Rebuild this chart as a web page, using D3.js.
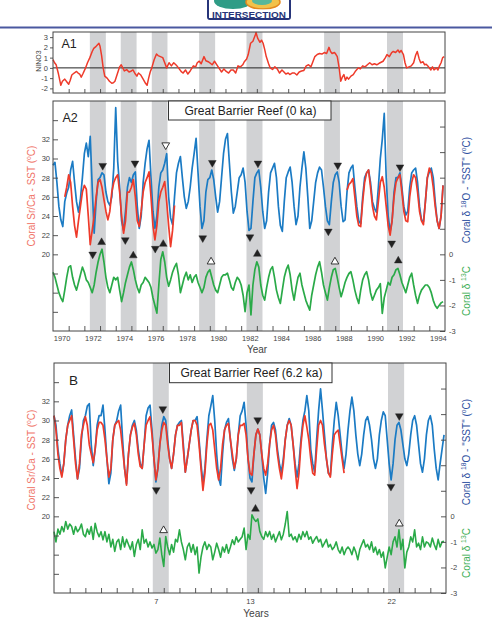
<!DOCTYPE html>
<html><head><meta charset="utf-8">
<script src="https://cdn.jsdelivr.net/npm/d3@7"></script>
<style>body{margin:0;background:#fff} svg{display:block} text{font-family:"Liberation Sans",Arial,Helvetica,sans-serif}</style>
</head><body><svg id="c" width="492" height="619"></svg>
<script>
// ---------------- DATA ----------------
// Panel A1: NINO3 index [year, value]
const nino3 = [[1970.0,0.8],[1970.1,0.5],[1970.2,0.3],[1970.35,-0.6],[1970.5,-1.7],[1970.6,-1.3],[1970.75,-1.1],[1970.9,-1.4],[1971.0,-1.6],[1971.1,-1.2],[1971.2,-0.7],[1971.35,-0.5],[1971.5,-0.35],[1971.6,-0.5],[1971.7,-0.6],[1971.8,-0.9],[1971.9,-0.6],[1972.05,-0.1],[1972.2,0.5],[1972.35,1.0],[1972.5,1.6],[1972.6,1.9],[1972.75,2.1],[1972.93,2.4],[1973.0,2.1],[1973.1,1.2],[1973.2,0.0],[1973.3,-0.8],[1973.45,-1.0],[1973.6,-1.3],[1973.75,-1.5],[1973.85,-1.45],[1973.95,-1.3],[1974.1,-0.6],[1974.25,0.1],[1974.35,0.3],[1974.45,0.0],[1974.55,-0.3],[1974.7,-0.17],[1974.85,-0.4],[1975.0,-0.3],[1975.1,-0.2],[1975.25,-0.6],[1975.35,-0.8],[1975.45,-0.5],[1975.6,-0.7],[1975.75,-1.1],[1975.9,-1.5],[1976.0,-1.7],[1976.1,-1.0],[1976.2,-0.4],[1976.3,0.0],[1976.45,0.8],[1976.6,1.35],[1976.7,1.2],[1976.85,1.1],[1977.0,1.0],[1977.1,0.6],[1977.25,0.0],[1977.4,0.5],[1977.55,0.2],[1977.7,0.5],[1977.9,0.2],[1978.05,-0.1],[1978.2,-0.4],[1978.3,-0.5],[1978.45,-0.2],[1978.6,-0.6],[1978.75,-0.3],[1978.95,0.2],[1979.1,0.1],[1979.2,0.5],[1979.33,0.65],[1979.45,0.4],[1979.63,1.1],[1979.75,0.7],[1979.9,0.6],[1980.0,0.5],[1980.15,0.3],[1980.3,0.65],[1980.45,0.3],[1980.65,-0.17],[1980.75,-0.4],[1980.9,-0.1],[1981.05,-0.35],[1981.2,-0.5],[1981.35,-0.2],[1981.5,-0.2],[1981.65,-0.5],[1981.8,0.2],[1981.95,0.1],[1982.1,0.3],[1982.2,0.6],[1982.35,0.87],[1982.45,1.3],[1982.6,2.4],[1982.75,2.6],[1982.9,3.2],[1982.95,3.45],[1983.05,2.9],[1983.2,2.5],[1983.3,2.7],[1983.4,2.4],[1983.5,1.8],[1983.6,1.1],[1983.75,0.4],[1983.85,0.0],[1984.0,-0.15],[1984.15,0.1],[1984.3,-0.1],[1984.45,-0.5],[1984.6,-0.2],[1984.7,-0.35],[1984.85,-0.6],[1985.0,-0.5],[1985.1,-0.65],[1985.25,-0.5],[1985.4,-0.5],[1985.55,-0.7],[1985.7,-0.4],[1985.85,-0.3],[1986.0,-0.25],[1986.15,0.2],[1986.3,0.3],[1986.45,0.1],[1986.55,0.5],[1986.7,1.1],[1986.85,1.3],[1987.0,1.4],[1987.15,1.35],[1987.3,1.5],[1987.45,1.4],[1987.6,2.0],[1987.7,1.6],[1987.8,1.4],[1987.95,1.5],[1988.05,1.3],[1988.13,1.1],[1988.25,0.0],[1988.35,-1.3],[1988.45,-0.9],[1988.55,-0.65],[1988.65,-1.2],[1988.75,-0.9],[1988.85,-1.1],[1989.0,-0.8],[1989.15,-0.65],[1989.3,-0.3],[1989.47,0.0],[1989.6,-0.1],[1989.75,0.2],[1989.9,0.1],[1990.05,0.3],[1990.2,0.5],[1990.35,0.3],[1990.5,0.4],[1990.65,0.3],[1990.8,0.45],[1991.05,0.65],[1991.2,1.0],[1991.3,1.3],[1991.45,1.1],[1991.6,1.5],[1991.7,1.6],[1991.85,1.5],[1992.0,1.75],[1992.1,1.5],[1992.2,1.7],[1992.35,1.3],[1992.45,0.5],[1992.55,0.0],[1992.7,0.1],[1992.85,0.2],[1993.0,0.5],[1993.12,1.2],[1993.23,1.6],[1993.35,0.9],[1993.45,0.5],[1993.6,0.6],[1993.7,0.3],[1993.8,0.35],[1993.95,0.1],[1994.1,-0.2],[1994.2,0.1],[1994.3,-0.2],[1994.45,0.0],[1994.55,-0.2],[1994.65,0.2],[1994.75,0.5],[1994.85,1.0],[1994.95,1.1]];

// El Nino bands (years)
const bandsA = [[1972.35,1973.37],[1974.32,1975.33],[1976.3,1977.3],[1979.32,1980.34],[1982.34,1983.36],[1987.29,1988.3],[1991.3,1992.32]];
const bandsB = [[6.3,7.32],[12.3,13.32],[21.3,22.33]];

// A2 series: 8 samples per year
const a2Step = 0.125;
const a2BlueStart = 1970;
const a2Blue = [
29.3,29.6,27.5,25.0,23.6,22.9,25.5,26.4, 27.0,28.8,29.7,27.5,25.5,24.4,25.8,28.0,
30.5,31.6,30.2,32.3,27.0,22.2,25.5,27.8, 28.0,28.5,28.3,26.5,25.5,25.1,26.0,29.0,
35.3,29.7,27.0,23.5,22.5,24.5,27.0,28.0, 27.5,28.3,28.6,25.0,22.7,24.0,27.5,29.5,
31.0,31.9,28.0,24.5,22.7,24.0,27.0,28.5, 28.8,29.5,30.5,26.0,23.8,23.1,26.0,28.5,
29.5,30.2,28.0,26.0,24.8,25.5,27.0,29.0, 30.5,32.1,28.5,25.0,22.7,23.5,26.5,27.8,
28.0,28.8,27.8,26.0,24.4,25.5,28.0,30.5, 32.0,32.6,29.5,26.5,24.3,25.0,26.5,28.0,
28.3,29.0,27.5,24.5,22.5,22.7,25.5,28.0, 28.5,28.8,27.0,24.5,22.7,23.5,26.5,28.5,
29.0,29.5,28.0,25.0,23.0,22.4,25.5,28.0, 28.6,29.1,27.5,25.0,23.1,24.0,27.0,29.0,
30.7,29.0,26.0,22.7,23.5,25.5,27.5,28.5, 29.1,28.8,27.0,25.0,23.5,23.1,25.5,27.5,
28.3,28.6,27.5,25.0,23.4,23.6,26.5,28.5, 29.0,29.3,27.0,25.0,23.5,23.2,26.0,28.0,
28.5,28.8,27.5,25.5,24.8,24.4,27.0,30.0, 32.0,34.7,28.0,24.0,22.4,23.5,26.5,28.0,
28.0,28.5,27.0,25.0,24.1,24.5,27.0,28.5, 28.8,29.0,27.5,25.0,23.6,23.4,25.5,28.0,
28.6,29.0,28.0,25.5,23.5,22.7,24.0,27.2];
const a2Red1Start = 1970.75;
const a2Red1 = [26.0,27.0,
28.3,27.5,25.0,23.0,21.8,23.5,25.0,26.5, 27.2,26.8,24.0,21.0,22.5,24.0,26.0,27.5,
27.8,27.0,25.7,24.5,23.6,24.5,26.5,27.5, 28.0,28.3,26.5,24.0,22.2,23.5,26.5,26.5,
27.0,27.8,26.0,23.5,22.9,24.5,26.5,27.5, 28.0,28.6,26.0,23.0,21.5,23.0,25.5,26.5,
27.0,27.6,25.5,23.0,20.8,22.5,25.1];
const a2Red2Start = 1988.75;
const a2Red2 = [26.7,27.3,
27.5,27.9,26.0,24.0,23.0,22.9,25.5,27.5, 28.5,28.8,27.0,25.0,24.0,23.6,25.5,27.5,
28.1,27.0,25.0,23.0,22.0,23.5,26.0,27.5, 28.0,28.3,26.5,24.5,23.5,23.4,26.0,27.5,
28.3,28.0,26.5,24.5,23.5,23.1,25.5,28.0, 29.0,28.5,27.0,25.0,23.5,22.7,24.0,27.2];
const a2GreenStart = 1970;
const a2Green = [
-0.7,-0.9,-1.2,-1.5,-1.7,-1.85,-1.4,-0.9, -0.5,-0.45,-0.9,-1.2,-1.4,-1.1,-0.8,-0.5,
-0.7,-1.0,-1.1,-1.3,-1.5,-1.2,-0.7,-0.3, 0.0,0.2,-0.3,-0.9,-1.3,-1.5,-1.2,-0.9,
-1.0,-0.9,-1.4,-1.85,-1.5,-1.1,-0.8,-0.5, -0.3,-0.6,-1.0,-1.3,-1.5,-1.2,-1.1,-0.9,
-1.0,-1.1,-1.3,-1.7,-2.0,-2.3,-1.2,-0.2, 0.1,-0.3,-0.9,-1.25,-1.0,-0.7,-0.5,-0.35,
-0.8,-1.5,-1.2,-0.9,-0.7,-1.0,-0.8,-1.1, -0.9,-0.8,-1.1,-1.3,-1.5,-1.3,-0.9,-0.7,
-0.6,-0.9,-1.2,-1.4,-1.5,-1.2,-0.9,-0.8, -0.8,-0.74,-1.0,-1.3,-1.4,-1.1,-0.9,-1.0,
-1.2,-1.6,-2.24,-1.5,-1.2,-2.37,-1.2,-0.6, -0.29,-0.5,-1.2,-1.6,-1.79,-1.3,-0.9,-0.6,
-0.48,-0.9,-1.4,-1.7,-1.92,-1.4,-0.9,-0.6, -0.42,-0.8,-1.4,-1.79,-1.3,-0.9,-0.74,-1.2,
-1.5,-1.8,-2.0,-2.18,-1.6,-1.2,-0.8,-0.5, -0.29,-0.7,-1.2,-1.5,-1.79,-1.3,-0.9,-0.6,
-0.55,-0.9,-1.3,-1.66,-1.4,-1.1,-0.9,-0.75, -0.68,-1.0,-1.4,-1.7,-1.92,-1.4,-1.0,-0.8,
-0.68,-1.0,-1.5,-1.79,-1.6,-1.4,-1.3,-1.15, -2.31,-1.7,-1.4,-1.1,-1.2,-0.9,-0.8,-0.6,
-0.55,-0.8,-1.1,-1.3,-1.5,-1.2,-0.9,-0.74, -1.2,-1.6,-1.92,-1.6,-1.4,-1.3,-1.2,-1.2,
-1.3,-1.5,-1.8,-2.0,-2.11,-2.0,-1.9,-1.85];

// B series: 8 samples per year, years 0..25
const bStep = 0.125;
const bBlue = [
30.5,29.5,27.0,25.5,24.3,25.5,28.0,29.5, 30.5,31.1,28.5,26.0,23.9,25.0,28.0,30.0,
30.5,31.5,31.75,27.5,25.3,27.0,29.5,30.5, 30.5,31.6,29.0,26.0,23.4,24.5,28.0,29.5,
30.0,31.0,31.6,28.0,25.0,23.4,26.5,28.5, 29.5,30.0,29.0,27.0,25.5,25.0,27.5,30.5,
31.3,31.6,29.0,26.0,23.6,25.0,27.5,29.5, 30.4,30.0,28.0,26.0,25.0,26.5,28.5,29.5,
29.8,30.0,27.5,24.6,26.0,27.5,29.0,30.0, 30.0,30.4,28.0,25.5,23.4,25.0,28.0,30.5,
31.5,32.6,30.0,26.5,24.0,23.25,26.5,29.0, 29.8,30.2,28.0,26.0,24.8,26.0,28.5,30.5,
31.0,31.9,29.5,26.0,24.0,23.6,26.5,28.5, 29.1,28.5,26.5,24.0,22.4,24.5,27.5,29.5,
29.8,29.0,27.0,25.5,24.6,26.0,28.0,29.5, 30.2,29.5,27.5,25.5,24.1,25.5,28.0,30.0,
31.0,32.6,31.0,27.0,25.5,24.6,28.0,31.0, 33.3,31.0,28.5,26.0,24.5,24.3,27.5,30.0,
31.9,30.5,28.5,26.5,25.0,26.5,29.0,31.0, 32.45,31.0,28.5,26.5,25.3,26.5,28.5,30.0,
30.4,29.5,28.0,26.0,25.0,26.0,28.5,30.0, 30.9,30.5,28.0,25.5,23.8,25.5,28.0,29.5,
29.8,29.0,27.5,26.0,25.3,26.5,28.5,30.0, 30.5,29.5,27.5,25.5,24.6,26.0,28.5,30.0,
30.5,29.5,27.0,25.0,23.8,25.5,27.0,28.5];
const bRed = [
30.5,29.0,26.5,25.0,24.1,25.5,28.0,29.5, 30.0,30.5,28.0,25.5,23.9,25.5,28.5,29.5,
30.4,29.5,27.5,26.5,25.6,27.0,29.0,29.8, 29.8,29.5,28.0,26.0,24.1,25.0,28.0,29.5,
29.8,30.0,29.0,27.0,25.0,23.25,26.5,28.5, 29.3,29.7,28.5,26.5,25.2,25.0,27.5,29.5,
30.0,30.4,28.5,26.0,23.8,25.0,27.5,29.0, 29.8,29.5,27.5,26.0,25.0,26.5,28.5,29.5,
29.5,29.8,27.0,24.6,26.0,27.5,29.0,30.0, 30.0,29.5,27.5,25.0,22.7,24.5,27.5,29.5,
29.7,29.0,27.0,25.0,23.8,25.0,27.5,29.0, 29.5,29.7,28.0,26.5,25.0,26.0,28.5,29.5,
29.5,29.7,28.5,26.0,24.5,24.3,26.5,28.5, 29.1,28.5,26.5,25.0,24.3,25.5,27.5,29.0,
29.5,28.5,26.5,25.0,23.9,25.5,28.0,29.5, 30.0,29.5,27.5,25.0,22.9,24.5,27.5,29.5,
30.5,29.3,28.0,26.0,24.5,24.3,27.0,29.5, 30.0,29.5,27.5,26.0,24.5,24.1,26.5,28.5,
28.8,29.0,27.5,26.0,24.5];
const bGreen = [
-0.6,-1.0,-0.5,-0.7,-0.4,-0.6,-0.2,-0.5, -0.3,-0.4,-0.7,-0.4,-0.6,-0.5,-0.3,-0.7,
-0.8,-0.5,-0.7,-0.4,-0.9,-0.27,-0.6,-0.8, -0.6,-0.92,-0.6,-1.0,-0.7,-1.2,-0.9,-1.37,
-1.0,-0.9,-1.3,-0.8,-1.2,-0.9,-1.1,-1.3, -1.0,-1.57,-1.1,-0.9,-1.3,-0.53,-1.05,-0.9,
-1.2,-1.0,-1.24,-1.1,-1.44,-1.3,-0.85,-1.5, -1.96,-0.79,-1.2,-1.5,-1.1,-1.4,-0.9,-1.0,
-0.53,-1.0,-1.3,-1.7,-1.2,-1.05,-1.4,-1.1, -1.5,-1.2,-2.22,-1.6,-1.2,-1.0,-1.3,-1.1,
-1.2,-1.7,-1.4,-1.05,-1.3,-1.6,-1.2,-1.4, -1.1,-1.44,-1.2,-0.92,-1.1,-0.8,-1.0,-0.9,
-0.8,-0.46,-1.3,-0.7,-0.9,0.06,-0.1,-0.2, -0.1,-0.59,-0.79,-0.9,-0.6,-0.8,-0.59,-0.9,
-0.7,-1.0,-0.8,-0.6,-0.92,-0.7,-0.3,0.19, -0.79,-0.7,-0.92,-0.8,-1.0,-0.7,-0.9,-0.6,
-0.8,-0.59,-0.9,-0.8,-1.05,-0.9,-0.79,-1.0, -0.9,-1.2,-1.05,-0.9,-1.2,-1.1,-1.3,-1.2,
-1.0,-1.3,-1.44,-1.2,-1.5,-1.3,-1.2,-1.3, -1.5,-1.2,-1.4,-1.7,-1.3,-1.1,-0.92,-1.2,
-1.1,-1.3,-1.0,-1.4,-1.2,-1.5,-1.3,-1.6, -1.4,-2.02,-1.6,-1.2,-1.5,-1.0,-0.8,-1.2,
-0.53,-1.3,-0.9,-2.02,-1.4,-1.2,-0.8,-1.0, -0.53,-1.2,-1.05,-1.3,-0.8,-1.2,-1.0,-1.05,
-1.2,-0.85,-1.1,-1.3,-0.9,-1.2,-1.0,-0.98];

// Triangle markers: [time, value, axis ('sst' | 'c13'), type]
const a2Markers = [
 [1973.17,29.25,'sst','down'],[1972.53,20.0,'sst','down'],[1973.1,0.47,'c13','up'],
 [1975.23,29.5,'sst','down'],[1974.61,21.5,'sst','down'],[1975.12,-0.05,'c13','up'],
 [1977.19,31.4,'sst','downOpen'],[1976.52,20.6,'sst','down'],[1977.03,0.40,'c13','up'],
 [1980.16,29.56,'sst','down'],[1979.55,21.7,'sst','down'],[1980.08,-0.29,'c13','upOpen'],
 [1983.07,29.5,'sst','down'],[1982.56,21.8,'sst','down'],[1983.03,0.01,'c13','up'],
 [1988.16,29.3,'sst','down'],[1987.56,22.4,'sst','down'],[1987.98,-0.29,'c13','upOpen'],
 [1992.13,29.1,'sst','down'],[1991.6,21.15,'sst','down'],[1992.02,-0.25,'c13','up']];
const bMarkers = [
 [6.94,31.2,'sst','down'],[6.52,22.76,'sst','down'],[6.99,-0.55,'c13','upOpen'],
 [12.99,30.05,'sst','down'],[12.57,22.76,'sst','down'],[12.85,0.29,'c13','up'],
 [22.02,30.47,'sst','down'],[21.49,23.1,'sst','down'],[22.02,-0.29,'c13','upOpen']];

// Tick labels
const yearLabelsA = d3.range(1970, 1995, 2);
const yearLabelsB = [7, 13, 22];
const ninoTicks = [-2, -1, 0, 1, 2, 3];
const sstTicks = d3.range(14, 36, 2);
const sstLabelled = [20, 22, 24, 26, 28, 30, 32];
const c13Ticks = d3.range(-3, 6);
const c13Labelled = [0, -1, -2, -3];

// ---------------- DRAW ----------------
const FONT = '"Liberation Sans",Arial,Helvetica,sans-serif';
const C = {red:'#ee3a2a', blue:'#1b7bc4', green:'#2aaa48', band:'#d1d2d4', axis:'#444', lbl:'#f07468', blueLbl:'#2d4fa0', greenLbl:'#3dae55'};
const svg = d3.select('#c');
const ser = (start, step, vals) => vals.map((v, i) => [start + i * step, v]);

// header logo
const logo = svg.append('g');
logo.append('rect').attr('x',208).attr('y',-4).attr('width',82).attr('height',23).attr('rx',2).attr('fill','#fff').attr('stroke','#27357a').attr('stroke-width',2);
logo.append('ellipse').attr('cx',233).attr('cy',1).attr('rx',19).attr('ry',8).attr('fill','#2f9c86');
logo.append('ellipse').attr('cx',263).attr('cy',2).attr('rx',17).attr('ry',7).attr('fill','#f2c24a').attr('stroke','#e5891f').attr('stroke-width',1.5);
logo.append('ellipse').attr('cx',262).attr('cy',1).attr('rx',10).attr('ry',4).attr('fill','#58b79a');
logo.append('rect').attr('x',209).attr('y',9.5).attr('width',80).attr('height',8.5).attr('fill','#fff');
logo.append('text').attr('x',249).attr('y',17.6).attr('text-anchor','middle').attr('font-size',9).attr('font-weight','bold').attr('fill','#27357a').attr('textLength',74).attr('lengthAdjust','spacingAndGlyphs').text('INTERSECTION');
svg.append('line').attr('x1',0).attr('x2',492).attr('y1',27.5).attr('y2',27.5).attr('stroke','#4a58a0').attr('stroke-width',2);

function styleAxis(g, size) {
  g.attr('font-family', FONT).attr('font-size', size || 7.5);
  g.select('.domain').remove();
  g.selectAll('line').attr('stroke', C.axis).attr('stroke-width', 0.9);
  g.selectAll('text').attr('fill', C.axis);
}
function bands(g, list, x, y0, y1) {
  g.selectAll(null).data(list).enter().append('rect')
    .attr('x', d => x(d[0])).attr('width', d => x(d[1]) - x(d[0]))
    .attr('y', y0).attr('height', y1 - y0).attr('fill', C.band);
}
function line(g, data, x, y, color, w) {
  g.append('path').datum(data).attr('fill','none').attr('stroke',color).attr('stroke-width',w||1.7)
    .attr('stroke-linejoin','round').attr('d', d3.line().x(d => x(d[0])).y(d => y(d[1])));
}
function markers(g, list, x, yS, yC) {
  const sym = d3.symbol(d3.symbolTriangle, 26);
  g.selectAll(null).data(list).enter().append('path')
    .attr('d', sym)
    .attr('transform', d => `translate(${x(d[0])},${(d[2]==='sst'?yS:yC)(d[1])}) rotate(${d[3].startsWith('down')?180:0})`)
    .attr('fill', d => d[3].endsWith('Open') ? '#fff' : '#222')
    .attr('stroke', '#222').attr('stroke-width', d => d[3].endsWith('Open') ? 0.9 : 0.4);
}
function vlabel(x, y, parts, color, size) {
  const t = svg.append('text').attr('transform', `translate(${x},${y}) rotate(-90)`)
    .attr('text-anchor','middle').attr('font-size', size).attr('fill', color).attr('font-family', FONT);
  parts.forEach(p => {
    if (p[1]) t.append('tspan').attr('font-size', size*0.68).attr('dy', -size*0.38).text(p[0]);
    else t.append('tspan').attr('dy', p[2] ? size*0.38 : 0).text(p[0]);
  });
}
function titleBox(x, y, w, h, txt, tx, ty) {
  svg.append('rect').attr('x',x).attr('y',y).attr('width',w).attr('height',h).attr('fill','#fff').attr('stroke','#333').attr('stroke-width',1);
  svg.append('text').attr('x',tx).attr('y',ty).attr('text-anchor','middle').attr('font-size',12).attr('fill','#222').attr('font-family',FONT).text(txt);
}

// ---------- Panel A1 ----------
const xA = d3.scaleLinear().domain([1970, 1995]).range([53, 445]);
const yN = d3.scaleLinear().domain([-2.45, 3.5]).range([93, 32]);
const gA1 = svg.append('g');
bands(gA1, bandsA, xA, 32, 93);
gA1.append('line').attr('x1',53).attr('x2',445).attr('y1',yN(0)).attr('y2',yN(0)).attr('stroke','#222').attr('stroke-width',1);
line(gA1, nino3, xA, yN, C.red, 1.5);
gA1.append('rect').attr('x',53).attr('y',32).attr('width',392).attr('height',61).attr('fill','none').attr('stroke',C.axis).attr('stroke-width',1);
gA1.append('g').attr('transform','translate(53,0)').call(d3.axisLeft(yN).tickValues(ninoTicks).tickSize(3).tickPadding(2).tickFormat(d => String(d))).call(g => styleAxis(g, 7.5));
gA1.append('g').attr('transform','translate(0,93)').call(d3.axisBottom(xA).tickValues(d3.range(1971,1995)).tickSize(-4).tickFormat(() => '')).call(g => styleAxis(g));
svg.append('text').attr('x',61.5).attr('y',48.3).attr('font-size',12.5).attr('fill','#222').attr('font-family',FONT).text('A1');
svg.append('text').attr('transform','translate(40.5,61) rotate(-90)').attr('text-anchor','middle').attr('font-size',7).attr('fill','#444').attr('font-family',FONT).text('NINO3');

// ---------- Panel A2 ----------
const yS = d3.scaleLinear().domain([12, 36]).range([331, 101]);
const yC = d3.scaleLinear().domain([-3, 6]).range([331, 101]);
const gA2 = svg.append('g');
bands(gA2, bandsA, xA, 101, 331);
line(gA2, ser(a2GreenStart, a2Step, a2Green), xA, yC, C.green, 1.7);
line(gA2, ser(a2BlueStart, a2Step, a2Blue), xA, yS, C.blue, 1.7);
line(gA2, ser(a2Red1Start, a2Step, a2Red1), xA, yS, C.red, 1.7);
line(gA2, ser(a2Red2Start, a2Step, a2Red2), xA, yS, C.red, 1.7);
markers(gA2, a2Markers, xA, yS, yC);
gA2.append('rect').attr('x',53).attr('y',101).attr('width',392).attr('height',230).attr('fill','none').attr('stroke',C.axis).attr('stroke-width',1);
gA2.append('g').attr('transform','translate(53,0)').call(d3.axisLeft(yS).tickValues(sstTicks).tickSize(-5).tickPadding(3).tickFormat(d => sstLabelled.includes(d) ? String(d) : '')).call(g => styleAxis(g));
gA2.append('g').attr('transform','translate(445,0)').call(d3.axisRight(yC).tickValues(c13Ticks).tickSize(-5).tickPadding(4).tickFormat(d => c13Labelled.includes(d) ? String(d) : '')).call(g => styleAxis(g));
gA2.append('g').attr('transform','translate(0,331)').call(d3.axisBottom(xA).tickValues(d3.range(1971,1995)).tickSize(-5).tickFormat(() => '')).call(g => styleAxis(g));
gA2.append('g').attr('transform','translate(0,331)').call(d3.axisBottom(xA).tickValues(yearLabelsA).tickSize(0).tickPadding(5).tickFormat(d => String(d))).call(g => { styleAxis(g); g.selectAll('text').attr('dx', 8.6); });
titleBox(168.5, 101, 162.5, 19, 'Great Barrier Reef  (0 ka)', 250.5, 115.3);
svg.append('text').attr('x',62.5).attr('y',121.7).attr('font-size',12.5).attr('fill','#222').attr('font-family',FONT).text('A2');
svg.append('text').attr('x',257).attr('y',353).attr('text-anchor','middle').attr('font-size',10).attr('fill','#444').attr('font-family',FONT).text('Year');
vlabel(34.5, 196, [['Coral Sr/Ca - SST ('],['o',true],['C)',false,true]], C.lbl, 10);
vlabel(469.5, 190, [['Coral  δ '],['18',true],['O - "SST" (',false,true],['o',true],['C)',false,true]], C.blueLbl, 10);
vlabel(469.5, 291, [['Coral  δ '],['13',true],['C',false,true]], C.greenLbl, 10);

// ---------- Panel B ----------
const xB = d3.scaleLinear().domain([0, 25]).range([54, 446]);
const yBS = d3.scaleLinear().domain([12, 36]).range([593, 363]);
const yBC = d3.scaleLinear().domain([-3, 6]).range([593, 363]);
const gB = svg.append('g');
bands(gB, bandsB, xB, 363, 593);
line(gB, ser(0, bStep, bGreen), xB, yBC, C.green, 1.6);
line(gB, ser(0, bStep, bBlue), xB, yBS, C.blue, 1.7);
line(gB, ser(0, bStep, bRed), xB, yBS, C.red, 1.7);
markers(gB, bMarkers, xB, yBS, yBC);
gB.append('rect').attr('x',54).attr('y',363).attr('width',392).attr('height',230).attr('fill','none').attr('stroke',C.axis).attr('stroke-width',1);
gB.append('g').attr('transform','translate(54,0)').call(d3.axisLeft(yBS).tickValues(sstTicks).tickSize(-5).tickPadding(4).tickFormat(d => sstLabelled.includes(d) ? String(d) : '')).call(g => styleAxis(g));
gB.append('g').attr('transform','translate(446,0)').call(d3.axisRight(yBC).tickValues(c13Ticks).tickSize(-5).tickPadding(4.5).tickFormat(d => c13Labelled.includes(d) ? String(d) : '')).call(g => styleAxis(g));
gB.append('g').attr('transform','translate(0,593)').call(d3.axisBottom(xB).tickValues(d3.range(1,25)).tickSize(-5).tickFormat(() => '')).call(g => styleAxis(g));
gB.append('g').attr('transform','translate(0,593)').call(d3.axisBottom(xB).tickValues(yearLabelsB).tickSize(0).tickPadding(6).tickFormat(d => String(d))).call(g => { styleAxis(g); g.selectAll('text').attr('dx', -7.84); });
titleBox(169.5, 363, 162.5, 19.7, 'Great Barrier Reef  (6.2 ka)', 251.5, 376.6);
svg.append('text').attr('x',69).attr('y',385.3).attr('font-size',13.5).attr('fill','#222').attr('font-family',FONT).text('B');
svg.append('text').attr('x',256).attr('y',617).attr('text-anchor','middle').attr('font-size',10.2).attr('fill','#444').attr('font-family',FONT).text('Years');
vlabel(34.5, 460, [['Coral Sr/Ca - SST ('],['o',true],['C)',false,true]], C.lbl, 10);
vlabel(469.5, 452, [['Coral  δ '],['18',true],['O - "SST" (',false,true],['o',true],['C)',false,true]], C.blueLbl, 10);
vlabel(469.5, 553, [['Coral  δ '],['13',true],['C',false,true]], C.greenLbl, 10);
</script></body></html>
